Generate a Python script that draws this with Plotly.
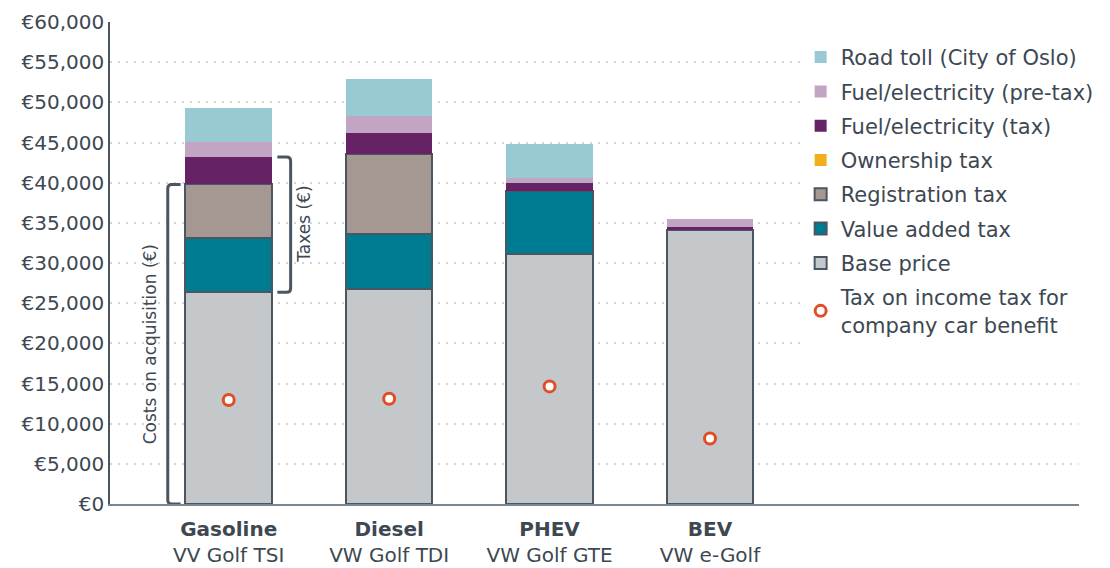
import plotly.graph_objects as go

# dados (EUR)
categorias = ["Gasoline", "Diesel", "PHEV", "BEV"]
modelos = ["VV Golf TSI", "VW Golf TDI", "VW Golf GTE", "VW e-Golf"]

base_price = [26360, 26770, 31090, 34120]
value_added_tax = [6760, 6850, 7890, 0]
registration_tax = [6660, 9890, 0, 0]
ownership_tax = [0, 0, 0, 0]
fuel_tax = [3400, 2660, 960, 340]
fuel_pretax = [1870, 2160, 620, 990]
road_toll = [4230, 4570, 4240, 0]
income_tax_benefit = [12940, 13110, 14640, 8160]

texto = "#3d4852"
contorno = "#4a5661"
x = list(range(len(categorias)))

series = [
    ("Base price", base_price, "#c4c8cb", True),
    ("Value added tax", value_added_tax, "#007c92", True),
    ("Registration tax", registration_tax, "#a59893", True),
    ("Ownership tax", ownership_tax, "#f2ae1c", False),
    ("Fuel/electricity (tax)", fuel_tax, "#652365", False),
    ("Fuel/electricity (pre-tax)", fuel_pretax, "#c2a5c3", False),
    ("Road toll (City of Oslo)", road_toll, "#99cad4", False),
]

fig = go.Figure()
n = len(series)
for i, (nome, valores, cor, borda) in enumerate(series):
    fig.add_trace(go.Bar(
        x=x, y=valores, name=nome, width=0.54,
        marker=dict(color=cor, line=dict(color=contorno, width=2 if borda else 0)),
        legendgroup=nome, legendrank=n - i,
        hoverinfo="name+y",
    ))

fig.add_trace(go.Scatter(
    x=x, y=income_tax_benefit, mode="markers",
    name="Tax on income tax for<br>company car benefit",
    legendgroup="income", legendrank=n + 1,
    marker=dict(symbol="circle", size=11, color="white",
                line=dict(color="#e04e25", width=3)),
))

# chaves (brackets) ao lado da barra Gasoline
custo_aquisicao = base_price[0] + value_added_tax[0] + registration_tax[0]
impostos_ini = base_price[0]
impostos_fim = custo_aquisicao + ownership_tax[0] + fuel_tax[0]


def chave(x_linha, x_ponta, y0, y1):
    rx = 0.025 if x_ponta > x_linha else -0.025
    ry = 500
    return (f"M {x_ponta},{y0} L {x_linha + rx},{y0} Q {x_linha},{y0} {x_linha},{y0 + ry} "
            f"L {x_linha},{y1 - ry} Q {x_linha},{y1} {x_linha + rx},{y1} L {x_ponta},{y1}")


fig.add_shape(type="path", xref="x", yref="y",
              path=chave(-0.38, -0.30, 0, custo_aquisicao),
              line=dict(color=contorno, width=3))
fig.add_shape(type="path", xref="x", yref="y",
              path=chave(0.386, 0.303, impostos_ini, impostos_fim),
              line=dict(color=contorno, width=3))

fig.add_annotation(x=-0.49, y=custo_aquisicao / 2, xref="x", yref="y",
                   text="Costs on acquisition (€)", textangle=-90, showarrow=False,
                   font=dict(size=17, color=texto))
fig.add_annotation(x=0.47, y=(impostos_ini + impostos_fim) / 2, xref="x", yref="y",
                   text="Taxes (€)", textangle=-90, showarrow=False,
                   font=dict(size=17, color=texto))

rotulos = [f"<b>{c}</b><br>{m}" for c, m in zip(categorias, modelos)]

# a pagina tem 8px de margem no body, por isso 1102x560
fig.update_layout(
    width=1102, height=560,
    barmode="stack",
    paper_bgcolor="white", plot_bgcolor="white",
    margin=dict(l=102, r=30, t=14, b=64),
    font=dict(family="DejaVu Sans", color=texto, size=19),
    showlegend=True,
    legend=dict(
        x=0.712, y=0.969, xanchor="left", yanchor="top",
        bgcolor="white", borderwidth=0,
        font=dict(size=21, color=texto),
        traceorder="grouped", tracegroupgap=4,
    ),
    xaxis=dict(
        range=[-0.74, 5.3], tickvals=x, ticktext=rotulos,
        showgrid=False, zeroline=False, showline=True,
        linecolor="#7b858d", linewidth=2, ticks="",
        tickfont=dict(size=20, color=texto),
        automargin=False, ticklabelstandoff=6,
    ),
    yaxis=dict(
        range=[0, 60000], dtick=5000, tickprefix="€", tickformat=",",
        showgrid=True, gridcolor="#d4d4d4", griddash="2px,6px", gridwidth=2,
        zeroline=False, showline=True, linecolor=contorno, linewidth=1.5,
        ticks="", tickfont=dict(size=20, color=texto),
        automargin=False,
    ),
)

fig.write_html("out.html")
